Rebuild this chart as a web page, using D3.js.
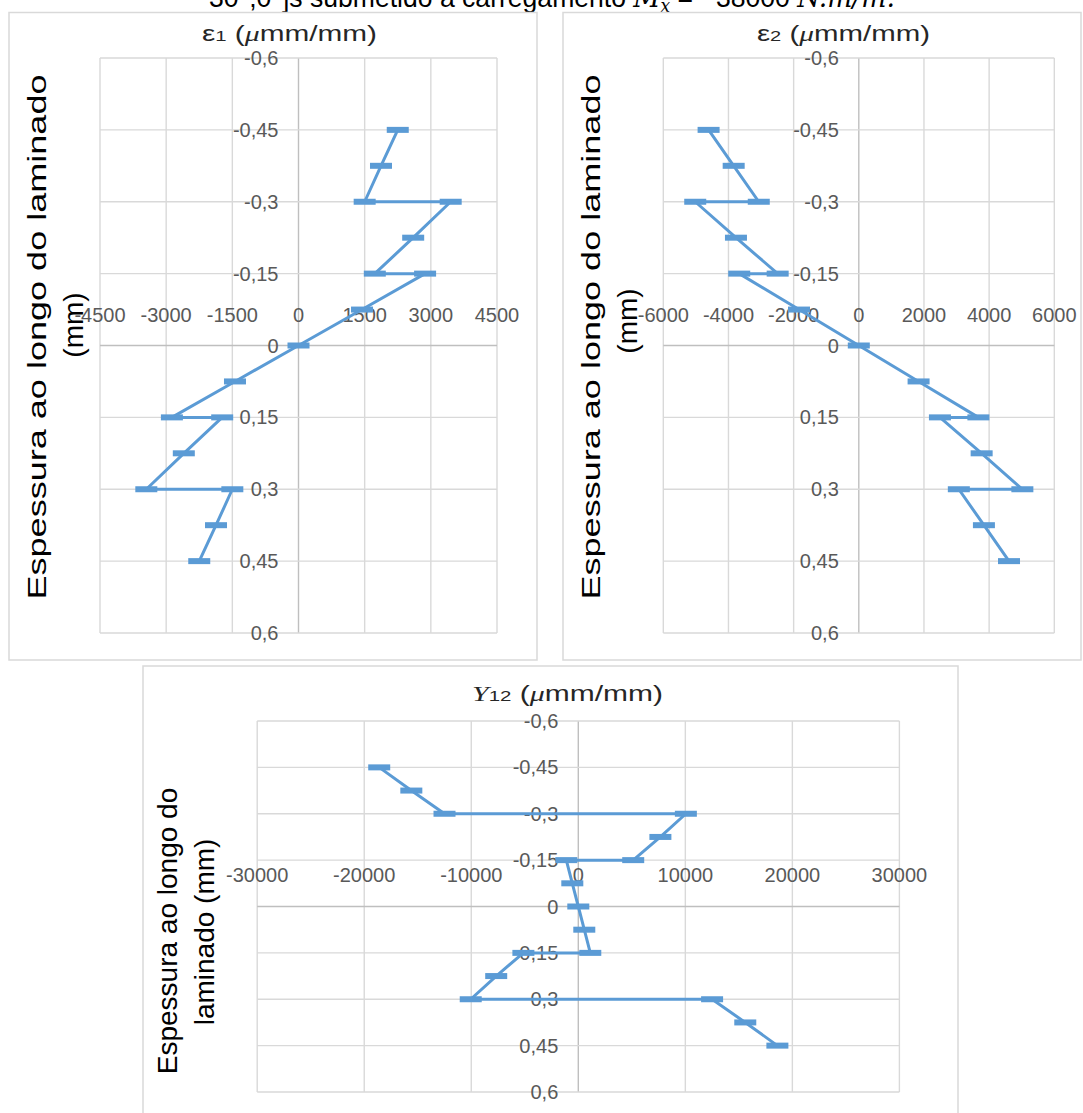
<!DOCTYPE html>
<html><head><meta charset="utf-8">
<script src="https://cdn.jsdelivr.net/npm/d3@7"></script>
<style>
html,body{margin:0;padding:0;background:#fff;}
svg{display:block;font-family:"Liberation Sans",Arial,sans-serif;}
</style></head>
<body>
<svg id="c" width="1083" height="1113"></svg>
<script>
// ---- data ----
const depth = [-0.45,-0.375,-0.3,-0.3,-0.225,-0.15,-0.15,-0.075,0,0.075,0.15,0.15,0.225,0.3,0.3,0.375,0.45];
const eps1  = [2250,1870,1500,3450,2600,1730,2870,1440,0,-1440,-2870,-1730,-2600,-3450,-1500,-1870,-2250];
const eps2  = [-4610,-3840,-3070,-5020,-3770,-2490,-3670,-1835,0,1835,3670,2490,3770,5020,3070,3840,4610];
const gam12 = [-18600,-15600,-12500,10050,7670,5130,-1120,-560,0,560,1120,-5130,-7670,-10050,12500,15600,18600];
const yTicks = [-0.6,-0.45,-0.3,-0.15,0,0.15,0.3,0.45,0.6];
const yTickLabels = ["-0,6","-0,45","-0,3","-0,15","0","0,15","0,3","0,45","0,6"];
const xTicks1 = [-4500,-3000,-1500,0,1500,3000,4500];
const xTicks2 = [-6000,-4000,-2000,0,2000,4000,6000];
const xTicks3 = [-30000,-20000,-10000,0,10000,20000,30000];

const svg = d3.select("#c");
const BLUE = "#5b9bd5", GRID = "#d9d9d9", AXIS = "#bfbfbf", LBL = "#595959";

// top (cut) caption
const cap = svg.append("text").attr("x",209).attr("y",6.5).attr("font-size",28).attr("fill","#000")
  .attr("textLength",686).attr("lengthAdjust","spacingAndGlyphs");
cap.append("tspan").text("30°,0°]s submetido a carregamento ");
cap.append("tspan").attr("font-family","'DejaVu Serif','Liberation Serif',serif").attr("font-style","italic").text("M");
cap.append("tspan").attr("font-family","'DejaVu Serif','Liberation Serif',serif").attr("font-style","italic").attr("font-size",18).attr("dy",5).text("x");
cap.append("tspan").attr("dy",-5).text(" = −38000 ");
cap.append("tspan").attr("font-family","'DejaVu Serif','Liberation Serif',serif").attr("font-style","italic").text("N.m/m.");

// frames
const frames = [[9,12.5,537,660],[563,12.5,1081,660],[143,666,958,1125]];
frames.forEach(f=>svg.append("rect").attr("x",f[0]).attr("y",f[1]).attr("width",f[2]-f[0]).attr("height",f[3]-f[1])
  .attr("fill","#fff").attr("stroke",GRID).attr("stroke-width",1.5));

function chart(o){
  const x = d3.scaleLinear().domain([o.xTicks[0],o.xTicks[o.xTicks.length-1]]).range(o.xr);
  const y = d3.scaleLinear().domain([-0.6,0.6]).range(o.yr);
  const g = svg.append("g");
  // grid
  g.selectAll(".vx").data(o.xTicks).join("line")
    .attr("x1",d=>x(d)).attr("x2",d=>x(d)).attr("y1",o.yr[0]).attr("y2",o.yr[1])
    .attr("stroke",d=>d===0?AXIS:GRID).attr("stroke-width",1.4);
  g.selectAll(".hy").data(yTicks).join("line")
    .attr("y1",d=>y(d)).attr("y2",d=>y(d)).attr("x1",o.xr[0]).attr("x2",o.xr[1])
    .attr("stroke",d=>d===0?AXIS:GRID).attr("stroke-width",1.4);
  // x tick labels
  g.selectAll(".xl").data(o.xTicks).join("text")
    .attr("x",d=>x(d)).attr("y",o.xLabelY).attr("text-anchor","middle")
    .attr("font-size",o.fs).attr("fill",LBL).text(d=>d3.format("d")(d).replace("−","-"));
  // y tick labels
  g.selectAll(".yl").data(yTicks).join("text")
    .attr("x",x(0)-20).attr("y",d=>y(d)+7).attr("text-anchor","end")
    .attr("font-size",o.fs).attr("fill",LBL).text((d,i)=>yTickLabels[i]);
  // title
  const t = g.append("text").attr("x",o.title[0]).attr("y",o.title[1]).attr("text-anchor","middle")
    .attr("font-size",22).attr("fill","#262626")
    .attr("textLength",o.title[2]).attr("lengthAdjust","spacingAndGlyphs");
  if(o.sym==="eps"){
    t.append("tspan").text("ε");
    t.append("tspan").attr("font-size",15).text(o.sub);
  } else {
    t.append("tspan").attr("font-family","'Liberation Serif','DejaVu Serif',serif").attr("font-style","italic").text("Υ");
    t.append("tspan").attr("font-size",15).text(o.sub);
  }
  t.append("tspan").text(" (");
  t.append("tspan").attr("font-family","'Liberation Serif','DejaVu Serif',serif").attr("font-style","italic").text("μ");
  t.append("tspan").text("mm/mm)");
  // axis title
  o.ytitle.forEach(l=>{
    const tt = g.append("text").attr("transform",`translate(${l[1]},${l[2]}) rotate(-90)`)
      .attr("text-anchor","middle").attr("font-size",l[3]).attr("fill","#000").text(l[0]);
    if(l[4]) tt.attr("textLength",l[4]).attr("lengthAdjust","spacingAndGlyphs");
  });
  // series
  const pts = depth.map((d,i)=>[o.vals[i],d]);
  g.append("path").datum(pts)
    .attr("d",d3.line().x(d=>x(d[0])).y(d=>y(d[1])))
    .attr("fill","none").attr("stroke",BLUE).attr("stroke-width",3).attr("stroke-linejoin","round");
  g.selectAll(".m").data(pts).join("rect")
    .attr("x",d=>x(d[0])-11).attr("y",d=>y(d[1])-3).attr("width",22).attr("height",6).attr("fill",BLUE);
}

chart({xTicks:xTicks1, vals:eps1, xr:[100,497], yr:[58,633], xLabelY:322, fs:20,
  title:[289.5,41,175], sym:"eps", sub:"1",
  ytitle:[["Espessura ao longo do laminado",46,337,25,525],["(mm)",83,325,28]]});
chart({xTicks:xTicks2, vals:eps2, xr:[663.3,1054.3], yr:[58,633], xLabelY:322, fs:20,
  title:[843.5,41,173], sym:"eps", sub:"2",
  ytitle:[["Espessura ao longo do laminado",600,337,25,525],["(mm)",637,321,28]]});
chart({xTicks:xTicks3, vals:gam12, xr:[257.2,899.4], yr:[721,1092], xLabelY:882, fs:20,
  title:[567.5,701,191], sym:"gam", sub:"12",
  ytitle:[["Espessura ao longo do",177,931,28],["laminado (mm)",214,932,28]]});
</script>
</body></html>
